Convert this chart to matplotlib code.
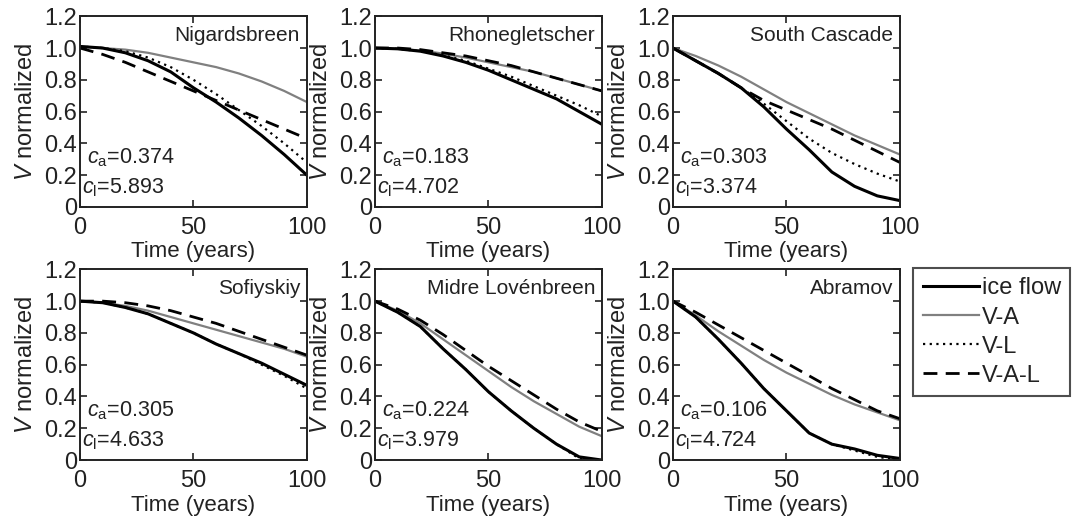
import numpy as np
import matplotlib
matplotlib.use("Agg")
import matplotlib.pyplot as plt
from matplotlib.lines import Line2D

plt.rcParams['font.family'] = ['Liberation Sans', 'DejaVu Sans']
plt.rcParams['mathtext.fontset'] = 'custom'
plt.rcParams['mathtext.rm'] = 'Liberation Sans'
plt.rcParams['mathtext.it'] = 'Liberation Sans:italic'

years = [0, 10, 20, 30, 40, 50, 60, 70, 80, 90, 100]

glaciers = ["Nigardsbreen", "Rhonegletscher", "South Cascade",
            "Sofiyskiy", "Midre Lovénbreen", "Abramov"]
c_a = ["0.374", "0.183", "0.303", "0.305", "0.224", "0.106"]
c_l = ["5.893", "4.702", "3.374", "4.633", "3.979", "4.724"]

ice_flow = [
    [1.01, 1.00, 0.97, 0.92, 0.85, 0.75, 0.66, 0.56, 0.45, 0.33, 0.20],
    [1.00, 0.995, 0.98, 0.95, 0.91, 0.86, 0.80, 0.74, 0.68, 0.60, 0.52],
    [1.00, 0.92, 0.84, 0.75, 0.63, 0.49, 0.36, 0.22, 0.13, 0.07, 0.04],
    [1.00, 0.99, 0.96, 0.92, 0.86, 0.80, 0.73, 0.67, 0.61, 0.54, 0.47],
    [1.00, 0.93, 0.84, 0.70, 0.57, 0.43, 0.31, 0.20, 0.10, 0.02, 0.00],
    [1.00, 0.90, 0.76, 0.61, 0.45, 0.31, 0.17, 0.10, 0.07, 0.03, 0.01],
]
v_a = [
    [1.01, 1.00, 0.99, 0.97, 0.94, 0.91, 0.88, 0.84, 0.79, 0.73, 0.66],
    [1.00, 0.995, 0.985, 0.965, 0.94, 0.91, 0.88, 0.85, 0.81, 0.77, 0.73],
    [1.00, 0.95, 0.89, 0.82, 0.74, 0.66, 0.59, 0.52, 0.45, 0.39, 0.33],
    [1.00, 0.99, 0.97, 0.94, 0.90, 0.86, 0.82, 0.78, 0.74, 0.70, 0.65],
    [1.00, 0.94, 0.86, 0.76, 0.66, 0.56, 0.46, 0.37, 0.29, 0.21, 0.15],
    [1.00, 0.91, 0.81, 0.72, 0.63, 0.55, 0.48, 0.41, 0.35, 0.30, 0.25],
]
v_l = [
    [1.01, 1.00, 0.98, 0.94, 0.88, 0.80, 0.71, 0.61, 0.51, 0.40, 0.28],
    [1.00, 0.995, 0.98, 0.955, 0.92, 0.87, 0.82, 0.76, 0.70, 0.64, 0.57],
    [1.00, 0.92, 0.84, 0.75, 0.65, 0.54, 0.43, 0.34, 0.27, 0.21, 0.16],
    [1.00, 0.99, 0.96, 0.92, 0.86, 0.80, 0.73, 0.67, 0.60, 0.53, 0.45],
    [1.00, 0.93, 0.84, 0.70, 0.57, 0.43, 0.31, 0.20, 0.10, 0.01, 0.00],
    [1.00, 0.90, 0.76, 0.61, 0.45, 0.31, 0.17, 0.10, 0.06, 0.02, 0.00],
]
v_a_l = [
    [1.00, 0.96, 0.91, 0.85, 0.79, 0.73, 0.67, 0.61, 0.55, 0.49, 0.43],
    [1.00, 1.00, 0.99, 0.97, 0.95, 0.92, 0.89, 0.85, 0.81, 0.77, 0.73],
    [1.00, 0.92, 0.84, 0.75, 0.67, 0.61, 0.55, 0.49, 0.42, 0.35, 0.28],
    [1.00, 1.00, 0.99, 0.97, 0.94, 0.90, 0.86, 0.81, 0.76, 0.71, 0.66],
    [1.00, 0.95, 0.88, 0.79, 0.69, 0.59, 0.50, 0.41, 0.32, 0.24, 0.18],
    [1.00, 0.93, 0.85, 0.77, 0.69, 0.61, 0.53, 0.45, 0.38, 0.31, 0.26],
]

yticks = [0, 0.2, 0.4, 0.6, 0.8, 1.0, 1.2]
ytick_labels = ["0", "0.2", "0.4", "0.6", "0.8", "1.0", "1.2"]
xticks = [0, 50, 100]

txt = '#222222'
fig = plt.figure(figsize=(10.72, 5.24), dpi=100)

lefts = [0.0746, 0.3498, 0.6278]
bottoms = [0.605, 0.122]
w, h = 0.2117, 0.364

for i, name in enumerate(glaciers):
    ax = fig.add_axes([lefts[i % 3], bottoms[i // 3], w, h])
    ax.plot(years, v_a[i], color='#808080', lw=1.6)
    ax.plot(years, ice_flow[i], color='black', lw=2.2)
    ax.plot(years, v_l[i], color='black', lw=1.6, linestyle=(0, (1, 2)))
    ax.plot(years, v_a_l[i], color='black', lw=2.0, linestyle=(0, (5, 3)))
    ax.set_xlim(0, 100)
    ax.set_ylim(0, 1.2)
    ax.set_xticks(xticks)
    ax.set_yticks(yticks)
    ax.set_yticklabels(ytick_labels)
    ax.tick_params(direction='in', top=True, right=True, length=5, width=1.2,
                   labelsize=17, colors=txt, labelcolor=txt)
    ax.tick_params(axis='x', pad=7)
    ax.tick_params(axis='y', pad=2)
    for s in ax.spines.values():
        s.set_linewidth(1.4)
        s.set_color('#222222')
    ax.set_xlabel('Time (years)', fontsize=16, color=txt, labelpad=2)
    ax.set_ylabel('$V$ normalized', fontsize=17, color=txt, labelpad=5)
    ax.text(97, 1.08, name, ha='right', va='center', fontsize=15, color=txt)
    ax.text(3, 0.31, r'$c_{\mathrm{a}}$=' + c_a[i], ha='left', va='center',
            fontsize=15.5, color=txt)
    ax.text(1, 0.12, r'$c_{\mathrm{l}}$=' + c_l[i], ha='left', va='center',
            fontsize=15.5, color=txt)

handles = [
    Line2D([], [], color='black', lw=2.2),
    Line2D([], [], color='#808080', lw=1.6),
    Line2D([], [], color='black', lw=1.6, linestyle=(0, (1, 2))),
    Line2D([], [], color='black', lw=2.0, linestyle=(0, (5, 3))),
]
leg = fig.legend(handles, ['ice flow', 'V-A', 'V-L', 'V-A-L'],
                 loc='upper left', bbox_to_anchor=(0.852, 0.4885),
                 fontsize=17, frameon=True, fancybox=False, handlelength=2.4,
                 handletextpad=0.1, borderpad=0.4, labelspacing=0.3,
                 borderaxespad=0)
leg.get_frame().set_edgecolor('#222222')
leg.get_frame().set_linewidth(1.5)
for t in leg.get_texts():
    t.set_color(txt)

fig.savefig('out.png', dpi=100)
